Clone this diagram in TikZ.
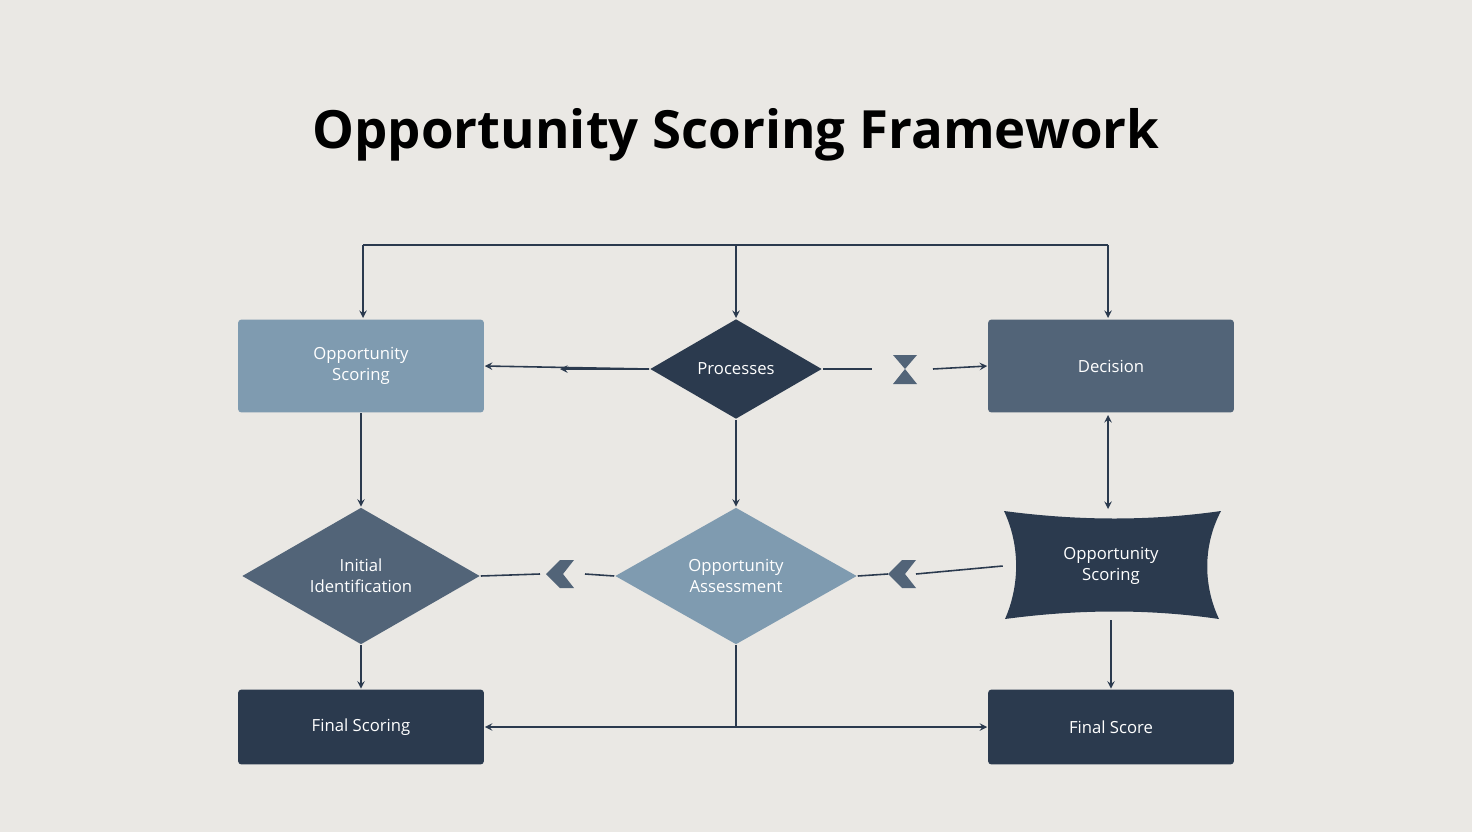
\documentclass[tikz,border=0pt]{standalone}
\usepackage{fontspec}
\setmainfont{Open Sans}
\usetikzlibrary{shapes.geometric,positioning,calc}
\definecolor{bgcol}{HTML}{EAE8E4}
\definecolor{navy}{HTML}{2B3A4E}
\definecolor{slate}{HTML}{526478}
\definecolor{steel}{HTML}{7F9BB0}
\begin{document}
\begin{tikzpicture}[
            x=0.02cm, y=-0.02cm,
            >=stealth,
            every path/.style={line width=0.9pt},
            lbl/.style={
                text=white,
                font=\fontsize{9.5}{12}\selectfont,
                align=center
            },
            box/.style={
                lbl,
                rectangle,
                rounded corners=2pt,
                minimum width=4.92cm,
                inner sep=0pt
            },
            dia/.style={
                lbl,
                diamond,
                inner sep=0pt
            },
            link/.style={draw=navy, ->},
        ]
            \fill[bgcol] (0,0) rectangle (1472,832);
            \useasboundingbox (0,0) rectangle (1472,832);

            \node[font=\fontsize{30}{36}\selectfont\bfseries, text=black] (title) at (736,135) {Opportunity Scoring Framework};

            % top row
            \node[box, fill=steel, minimum height=1.86cm] (score) at (361,366) {Opportunity\\Scoring};
            \node[dia, fill=navy, minimum width=3.44cm, minimum height=2.0cm] (proc) at (736,369) {Processes};
            \node[box, fill=slate, minimum height=1.86cm] (decision) at (1111,366) {Decision};

            % middle row
            \node[dia, fill=slate, minimum width=4.76cm, minimum height=2.74cm] (initial) at (361,576) {Initial\\Identification};
            \node[dia, fill=steel, minimum width=4.84cm, minimum height=2.74cm] (assess) at (736,576) {Opportunity\\Assessment};
            \fill[navy] (1004,511) .. controls (1080,521) and (1150,521) .. (1221,511)
                .. controls (1203,545) and (1203,585) .. (1219,619)
                .. controls (1150,609) and (1080,609) .. (1005,619)
                .. controls (1020,585) and (1020,545) .. (1004,511) -- cycle;
            \node[lbl, minimum width=4.3cm, minimum height=2.16cm] (banner) at (1111,566) {Opportunity\\Scoring};

            % bottom row
            \node[box, fill=navy, minimum height=1.5cm] (finalA) at (361,727) {Final Scoring};
            \node[box, fill=navy, minimum height=1.5cm] (finalB) at (1111,727) {Final Score};

            % top bus
            \coordinate (busL) at (363,245);
            \coordinate (busM) at (736,245);
            \coordinate (busR) at (1108,245);
            \draw[navy] (busL) -- (busR);
            \draw[link] (busL) -- (363,318);
            \draw[link] (busM) -- (736,318);
            \draw[link] (busR) -- (1108,318);

            % processes to the sides
            \draw[link] (proc.west) -- (score.east);
            \draw[navy, ->] (proc.west) -- (560,369);
            \coordinate (hgL) at (872,369);
            \coordinate (hgR) at (933,369);
            \draw[navy] (proc.east) -- (hgL);
            \fill[slate] (893,355) -- (917,355) -- (905,369) -- (917,384) -- (893,384) -- (905,369) -- cycle;
            \draw[link] (hgR) -- (decision.west);

            % verticals
            \draw[link] (score.south) -- (initial.north);
            \draw[link] (proc.south) -- (assess.north);
            \draw[draw=navy, <->] (1108,415) -- (1108,509);
            \draw[link] (initial.south) -- (finalA.north);
            \draw[link] (1111,620) -- (finalB.north);

            % middle chevrons
            \coordinate (chA) at (540,574);
            \coordinate (chB) at (585,574);
            \draw[navy] (initial.east) -- (chA);
            \fill[slate] (560,560) -- (574,560) -- (563,574) -- (574,588) -- (560,588) -- (546,574) -- cycle;
            \draw[navy] (chB) -- (assess.west);
            \coordinate (chC) at (916,574);
            \draw[navy] (banner.west) -- (chC);
            \fill[slate] (902,560) -- (916,560) -- (905,574) -- (916,588) -- (902,588) -- (888,574) -- cycle;
            \draw[navy] (888,574) -- (assess.east);

            % bottom split
            \coordinate (split) at (736,727);
            \draw[navy] (assess.south) -- (split);
            \draw[link] (split) -- (finalA.east);
            \draw[link] (split) -- (finalB.west);
        \end{tikzpicture}
\end{document}
